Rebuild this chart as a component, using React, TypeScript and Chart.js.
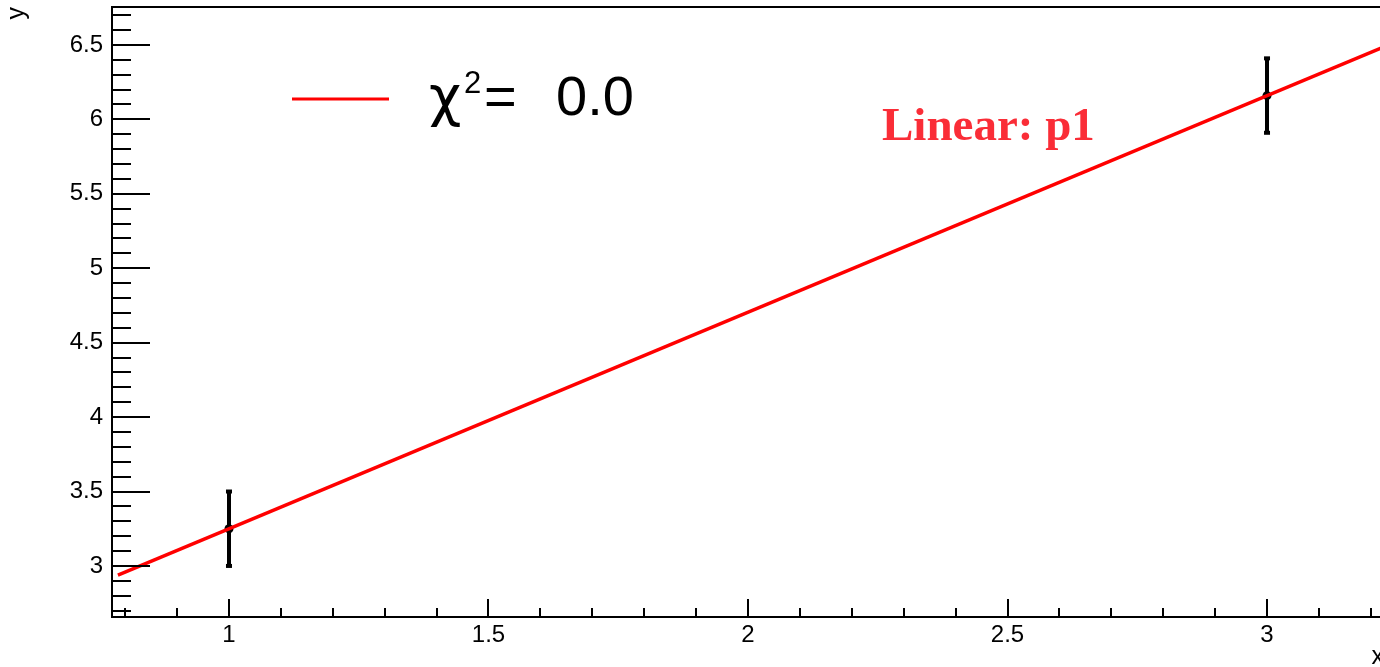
import React, { useEffect, useRef } from 'react';
import { Chart, registerables } from 'chart.js';

Chart.register(...registerables);

// ---- data ----
const pointX = [1, 3];
const pointY = [3.25, 6.16];
const pointErrY = [0.25, 0.25];
const fitX = [0.786, 3.2254];
const fitY = [2.939, 6.488];
const xTicks = [1, 1.5, 2, 2.5, 3];
const yTicks = [3, 3.5, 4, 4.5, 5, 5.5, 6, 6.5];
const xRange = [0.7746, 3.2254];
const yRange = [2.657, 6.755];
const chiSymbol = 'χ';
const chiSup = '2';
const chiRest = '=';
const chiValue = '0.0';
const fitLabel = 'Linear: p1';
const xTitle = 'x';
const yTitle = 'y';

const SANS = '"Liberation Sans", Arial, Helvetica, sans-serif';
const SERIF = '"Liberation Serif", "DejaVu Serif", serif';

const rootPlugin = {
  id: 'rootStyle',
  beforeDatasetsDraw(chart: any) {
    const { ctx, scales } = chart;
    const x = scales.x;
    const y = scales.y;
    ctx.save();
    ctx.strokeStyle = '#000';
    ctx.fillStyle = '#000';
    ctx.lineWidth = 4;
    pointX.forEach((vx, i) => {
      const cx = x.getPixelForValue(vx);
      const y1 = y.getPixelForValue(pointY[i] - pointErrY[i]);
      const y2 = y.getPixelForValue(pointY[i] + pointErrY[i]);
      ctx.beginPath();
      ctx.moveTo(cx, y1);
      ctx.lineTo(cx, y2);
      ctx.stroke();
      ctx.fillRect(cx - 3, y1 - 2, 6, 4);
      ctx.fillRect(cx - 3, y2 - 2, 6, 4);
    });
    ctx.restore();
  },
  afterDraw(chart: any) {
    const { ctx, chartArea, scales } = chart;
    const x = scales.x;
    const y = scales.y;
    ctx.save();
    ctx.strokeStyle = '#000';
    ctx.lineWidth = 2;
    // top frame
    ctx.beginPath();
    ctx.moveTo(chartArea.left, chartArea.top);
    ctx.lineTo(chartArea.right, chartArea.top);
    ctx.stroke();
    // x ticks (inside)
    for (let k = Math.ceil(x.min * 10); k <= Math.floor(x.max * 10); k++) {
      const v = k / 10;
      const major = k % 5 === 0;
      const px = Math.round(x.getPixelForValue(v));
      const len = major ? 18 : 9;
      ctx.beginPath();
      ctx.moveTo(px, chartArea.bottom);
      ctx.lineTo(px, chartArea.bottom - len);
      ctx.stroke();
    }
    // y ticks (inside)
    for (let k = Math.ceil(y.min * 10); k <= Math.floor(y.max * 10); k++) {
      const v = k / 10;
      const major = k % 5 === 0;
      const py = Math.round(y.getPixelForValue(v));
      const len = major ? 38 : 19;
      ctx.beginPath();
      ctx.moveTo(chartArea.left, py);
      ctx.lineTo(chartArea.left + len, py);
      ctx.stroke();
    }
    // legend
    ctx.strokeStyle = '#ff0000';
    ctx.lineWidth = 3;
    ctx.beginPath();
    ctx.moveTo(292, 99);
    ctx.lineTo(389, 99);
    ctx.stroke();
    ctx.fillStyle = '#000';
    ctx.textBaseline = 'alphabetic';
    ctx.textAlign = 'left';
    ctx.font = `56px "DejaVu Sans", sans-serif`;
    ctx.fillText(chiSymbol, 429, 115);
    ctx.font = `31px ${SANS}`;
    ctx.fillText(chiSup, 464, 93);
    ctx.font = `56px ${SANS}`;
    ctx.fillText(chiRest, 484, 115);
    ctx.fillText(chiValue, 556, 115);
    // fit label
    ctx.fillStyle = 'rgb(250,45,55)';
    ctx.font = `bold 47px ${SERIF}`;
    ctx.fillText(fitLabel, 882, 140);
    ctx.restore();
  },
};

export default function App() {
  const canvasRef = useRef<HTMLCanvasElement | null>(null);

  useEffect(() => {
    const canvas = canvasRef.current;
    if (!canvas) return;
    const chart = new Chart(canvas, {
      type: 'scatter',
      data: {
        datasets: [
          {
            type: 'line',
            label: 'fit',
            data: fitX.map((v, i) => ({ x: v, y: fitY[i] })),
            borderColor: '#ff0000',
            borderWidth: 3.5,
            pointRadius: 0,
            showLine: true,
            fill: false,
          } as any,
          {
            type: 'scatter',
            label: 'data',
            data: pointX.map((v, i) => ({ x: v, y: pointY[i] })),
            backgroundColor: '#000',
            borderColor: '#000',
            pointRadius: 4.5,
            borderWidth: 0,
          },
        ],
      },
      options: {
        animation: false,
        responsive: false,
        devicePixelRatio: 1,
        layout: { padding: { left: 0, top: 7, right: 8, bottom: 0 } },
        plugins: {
          legend: { display: false },
          tooltip: { enabled: false },
          title: { display: false },
        },
        scales: {
          x: {
            type: 'linear',
            position: 'bottom',
            min: xRange[0],
            max: xRange[1],
            afterBuildTicks: (scale: any) => {
              scale.ticks = xTicks.map((v) => ({ value: v }));
            },
            afterFit: (scale: any) => {
              scale.height = 50;
              scale.paddingLeft = 0;
              scale.paddingRight = 0;
            },
            grid: { display: false, drawTicks: false },
            border: { display: true, color: '#000', width: 2 },
            ticks: {
              color: '#000',
              font: { family: SANS, size: 24 },
              padding: 4,
              maxRotation: 0,
              autoSkip: false,
              callback: (v: any) => String(v),
            },
            title: {
              display: true,
              text: xTitle,
              align: 'end',
              color: '#000',
              font: { family: SANS, size: 25 },
              padding: { top: 0, bottom: -5 },
            },
          },
          y: {
            type: 'linear',
            position: 'left',
            min: yRange[0],
            max: yRange[1],
            afterBuildTicks: (scale: any) => {
              scale.ticks = yTicks.map((v) => ({ value: v }));
            },
            afterFit: (scale: any) => {
              scale.width = 112;
              scale.paddingTop = 0;
              scale.paddingBottom = 0;
            },
            grid: { display: false, drawTicks: false },
            border: { display: true, color: '#000', width: 2 },
            ticks: {
              color: '#000',
              font: { family: SANS, size: 24 },
              padding: 9,
              autoSkip: false,
              callback: (v: any) => String(v),
            },
            title: {
              display: true,
              text: yTitle,
              align: 'end',
              color: '#000',
              font: { family: SANS, size: 25 },
              padding: { top: 2, bottom: 0 },
            },
          },
        },
      } as any,
      plugins: [rootPlugin],
    });
    return () => chart.destroy();
  }, []);

  return (
    <div
      style={{
        position: 'fixed',
        left: 0,
        top: 0,
        width: 1380,
        height: 667,
        overflow: 'hidden',
        background: '#fff',
      }}
    >
      <canvas
        ref={canvasRef}
        width={1392}
        height={667}
        style={{ width: 1392, height: 667, display: 'block' }}
      />
    </div>
  );
}
